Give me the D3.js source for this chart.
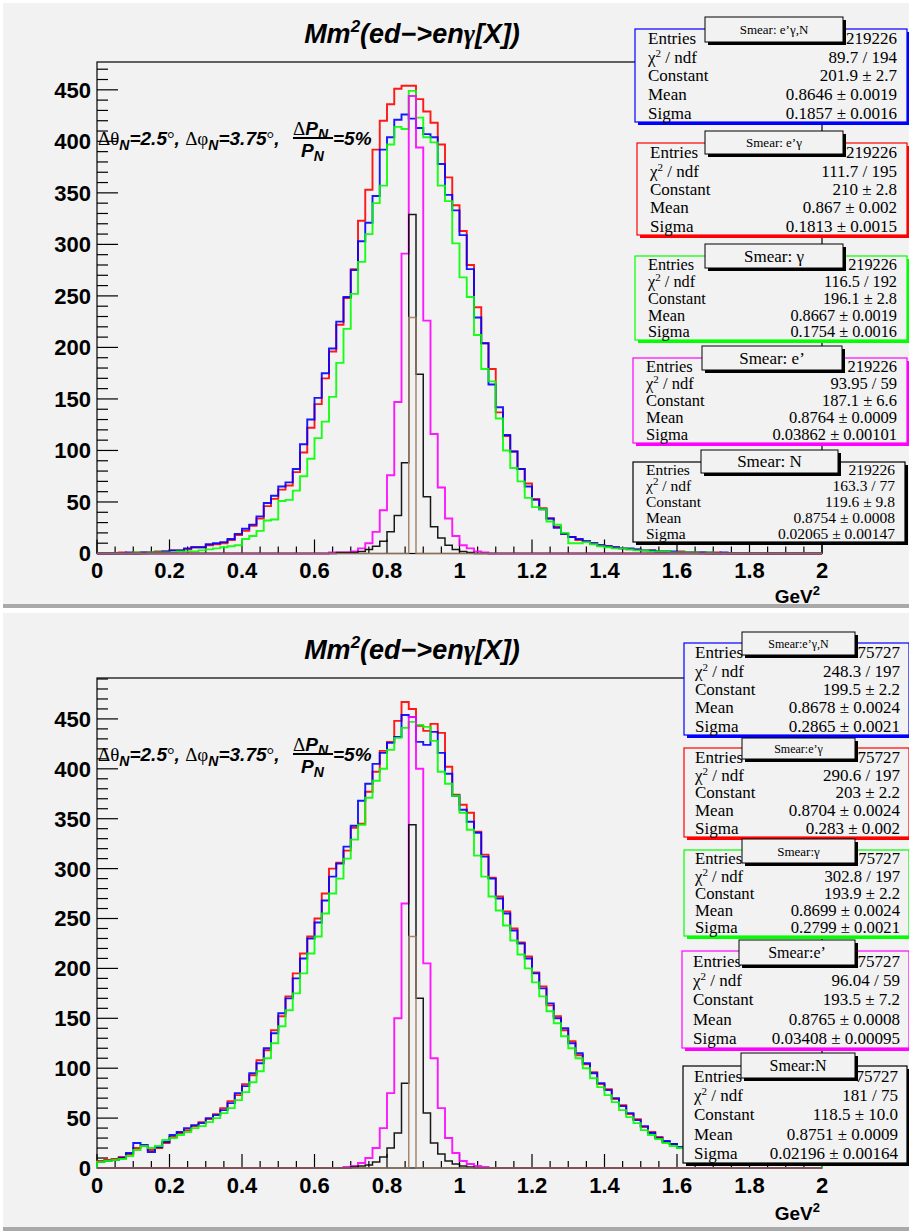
<!DOCTYPE html>
<html>
<head>
<meta charset="utf-8">
<script src="https://cdn.jsdelivr.net/npm/d3@7"></script>
<style>
body { margin: 0; background: #fff; }
svg { display: block; }
.serif { font-family: "Liberation Serif", "Times New Roman", "DejaVu Serif", serif; }
.sans { font-family: "Liberation Sans", Arial, "DejaVu Sans", sans-serif; }
</style>
</head>
<body>
<svg id="chart" width="909" height="1231"></svg>
<script>
// 100 bins of 0.02 GeV^2 from 0 to 2
var nBins = 100, xMin = 0, xMax = 2
var binW = (xMax - xMin) / nBins
var binLow = d3.range(nBins).map(function(i){ return xMin + i * binW })

// ---- top pad ----
var topBlue = [
  0,0,0,0,1,0,1,1,1,2,
  3,3,5,6,6,9,10,11,14,19,
  24,28,36,49,56,65,69,82,106,130,
  151,175,199,225,249,275,303,321,347,392,
  404,421,426,422,413,407,404,378,348,333,
  309,276,229,204,164,142,115,99,82,65,
  52,43,34,25,19,16,14,12,10,8,
  7,6,5,5,4,3,3,2,2,2,
  1,1,1,1,1,0,1,0,0,0,
  0,0,0,0,0,0,0,0,0,0]
var topRed = [
  0,0,0,1,0,1,1,1,2,2,
  3,3,4,6,6,8,9,10,13,18,
  22,27,34,46,53,62,66,79,98,122,
  145,170,196,222,248,276,323,353,392,420,
  436,451,454,454,441,429,418,397,365,338,
  313,280,239,204,179,137,114,99,82,68,
  53,44,34,26,19,16,13,12,10,8,
  7,6,5,4,4,3,3,2,2,1,
  2,1,1,1,0,1,0,0,0,0,
  0,0,0,0,0,0,0,0,0,0]
var topGreen = [
  0,0,0,0,0,1,0,1,1,1,
  1,2,2,2,3,4,5,6,7,8,
  14,17,22,32,33,51,52,61,75,92,
  112,128,152,185,218,252,283,310,340,357,
  397,414,412,449,423,404,399,357,342,301,
  268,249,212,179,167,131,100,83,70,54,
  45,43,31,28,20,10,10,11,9,7,
  6,5,5,4,3,3,2,2,2,1,
  1,1,1,0,1,0,0,0,0,0,
  0,0,0,0,0,0,0,0,0,0]
var topMagenta = [
  0,0,0,0,0,0,0,0,0,0,
  0,0,0,0,0,0,0,0,0,0,
  0,0,0,0,0,0,0,0,0,0,
  0,0,1,1,1,2,5,10,21,42,
  76,147,291,444,394,226,116,64,34,17,
  8,5,2,1,0,0,0,0,0,0,
  0,0,0,0,0,0,0,0,0,0,
  0,0,0,0,0,0,0,0,0,0,
  0,0,0,0,0,0,0,0,0,0,
  0,0,0,0,0,0,0,0,0,0]
var topBlack = [
  0,0,0,0,0,0,0,0,0,0,
  0,0,0,0,0,0,0,0,0,0,
  0,0,0,0,0,0,0,0,0,0,
  0,0,0,1,1,1,2,4,7,12,
  21,37,88,329,174,55,26,15,8,4,
  2,1,0,0,0,0,0,0,0,0,
  0,0,0,0,0,0,0,0,0,0,
  0,0,0,0,0,0,0,0,0,0,
  0,0,0,0,0,0,0,0,0,0,
  0,0,0,0,0,0,0,0,0,0]
var topBrown = [
  0,0,0,0,0,0,0,0,0,0,
  0,0,0,0,0,0,0,0,0,0,
  0,0,0,0,0,0,0,0,0,0,
  0,0,0,0,0,0,0,0,0,0,
  0,0,0,229,0,0,0,0,0,0,
  0,0,0,0,0,0,0,0,0,0,
  0,0,0,0,0,0,0,0,0,0,
  0,0,0,0,0,0,0,0,0,0,
  0,0,0,0,0,0,0,0,0,0,
  0,0,0,0,0,0,0,0,0,0]

// ---- bottom pad ----
var botBlue = [
  6,7,8,10,15,25,23,16,21,26,
  33,36,40,43,45,50,53,58,65,75,
  82,95,105,120,135,155,170,190,210,230,
  246,268,292,305,322,343,368,385,405,416,
  426,432,454,452,427,424,437,416,395,373,
  359,347,336,312,290,270,255,238,225,210,
  195,180,165,150,140,125,115,105,95,85,
  78,70,62,55,48,42,35,30,27,24,
  21,19,17,16,15,13,12,11,10,9,
  9,8,7,7,6,6,5,5,5,4]
var botRed = [
  7,8,9,11,14,20,22,18,20,25,
  31,35,38,42,46,49,54,60,67,73,
  84,93,108,118,138,152,172,195,215,232,
  250,275,300,306,318,341,345,377,397,418,
  427,448,467,460,443,438,445,436,402,374,
  364,356,337,314,291,272,257,240,226,212,
  196,182,163,152,138,127,113,104,96,84,
  79,69,63,54,49,41,36,31,26,24,
  20,19,18,15,15,12,12,11,10,9,
  8,8,7,6,6,5,5,4,5,4]
var botGreen = [
  6,7,8,9,12,18,22,20,22,28,
  30,33,36,40,42,46,50,55,60,68,
  76,86,97,110,125,142,158,175,195,215,
  232,255,275,290,310,329,344,371,388,400,
  419,431,441,447,444,442,428,397,385,373,
  356,339,313,292,272,258,243,228,214,200,
  186,172,157,145,132,120,110,100,90,81,
  73,66,58,51,45,38,33,29,25,22,
  20,18,16,15,13,12,11,10,9,9,
  8,7,7,6,5,5,5,4,4,4]
var botMagenta = [
  0,0,0,0,0,0,0,0,0,0,
  0,0,0,0,0,0,0,0,0,0,
  0,0,0,0,0,0,0,0,0,0,
  0,0,0,0,1,2,5,10,20,40,
  75,150,265,452,400,205,110,60,30,15,
  7,4,2,1,0,0,0,0,0,0,
  0,0,0,0,0,0,0,0,0,0,
  0,0,0,0,0,0,0,0,0,0,
  0,0,0,0,0,0,0,0,0,0,
  0,0,0,0,0,0,0,0,0,0]
var botBlack = [
  0,0,0,0,0,0,0,0,0,0,
  0,0,0,0,0,0,0,0,0,0,
  0,0,0,0,0,0,0,0,0,0,
  0,0,0,0,0,1,2,3,6,11,
  20,35,85,344,170,55,25,14,7,4,
  2,1,0,0,0,0,0,0,0,0,
  0,0,0,0,0,0,0,0,0,0,
  0,0,0,0,0,0,0,0,0,0,
  0,0,0,0,0,0,0,0,0,0,
  0,0,0,0,0,0,0,0,0,0]
var botBrown = [
  0,0,0,0,0,0,0,0,0,0,
  0,0,0,0,0,0,0,0,0,0,
  0,0,0,0,0,0,0,0,0,0,
  0,0,0,0,0,0,0,0,0,0,
  0,0,0,232,0,0,0,0,0,0,
  0,0,0,0,0,0,0,0,0,0,
  0,0,0,0,0,0,0,0,0,0,
  0,0,0,0,0,0,0,0,0,0,
  0,0,0,0,0,0,0,0,0,0,
  0,0,0,0,0,0,0,0,0,0]

// tick labels
var xTickLabels = ['0','0.2','0.4','0.6','0.8','1','1.2','1.4','1.6','1.8','2']
var yTickLabels = ['0','50','100','150','200','250','300','350','400','450']

// stat box texts
var statRows = ['Entries', 'χ2 / ndf', 'Constant', 'Mean', 'Sigma']
var topStatNames = ['Smear: e’γ,N', 'Smear: e’γ', 'Smear: γ', 'Smear: e’', 'Smear: N']
var topStatValues = [
  ['219226', '89.7 / 194', '201.9 ± 2.7', '0.8646 ± 0.0019', '0.1857 ± 0.0016'],
  ['219226', '111.7 / 195', '210 ± 2.8', '0.867 ± 0.002', '0.1813 ± 0.0015'],
  ['219226', '116.5 / 192', '196.1 ± 2.8', '0.8667 ± 0.0019', '0.1754 ± 0.0016'],
  ['219226', '93.95 / 59', '187.1 ± 6.6', '0.8764 ± 0.0009', '0.03862 ± 0.00101'],
  ['219226', '163.3 / 77', '119.6 ± 9.8', '0.8754 ± 0.0008', '0.02065 ± 0.00147']]
var botStatNames = ['Smear:e’γ,N', 'Smear:e’γ', 'Smear:γ', 'Smear:e’', 'Smear:N']
var botStatValues = [
  ['75727', '248.3 / 197', '199.5 ± 2.2', '0.8678 ± 0.0024', '0.2865 ± 0.0021'],
  ['75727', '290.6 / 197', '203 ± 2.2', '0.8704 ± 0.0024', '0.283 ± 0.002'],
  ['75727', '302.8 / 197', '193.9 ± 2.2', '0.8699 ± 0.0024', '0.2799 ± 0.0021'],
  ['75727', '96.04 / 59', '193.5 ± 7.2', '0.8765 ± 0.0008', '0.03408 ± 0.00095'],
  ['75727', '181 / 75', '118.5 ± 10.0', '0.8751 ± 0.0009', '0.02196 ± 0.00164']]

var colors = ['#0000ff', '#ff0000', '#00ff00', '#ff00ff', '#000000', '#9c7a60']

// layout of the two pads
var panels = [
  { top: 62, bottom: 553.5, ymax: 477, titleY: 43, annY: 145, xLabY: 578, unitY: 603,
    series: [topBlue, topRed, topGreen, topMagenta, topBlack, topBrown],
    names: topStatNames, values: topStatValues,
    boxes: [[635,29,907,122],[637,143,907,235],[635,256,907,340],[633,358,907,443],[633,462,905,542]],
    labels: [[705,17,843,42,13],[705,131,843,154,13],[705,244,843,268,17],[702,346,842,370,17],[701,450,838,473,17]],
    textL: 13, textR: 10 },
  { top: 678, bottom: 1168, ymax: 491, titleY: 659, annY: 761, xLabY: 1193, unitY: 1220,
    series: [botBlue, botRed, botGreen, botMagenta, botBlack, botBrown],
    names: botStatNames, values: botStatValues,
    boxes: [[684,643,909,735],[684,748,909,837],[684,850,909,936],[682,951,909,1048],[683,1066,907,1163]],
    labels: [[742,632,855,655,12],[742,738,855,759,12],[742,839,855,863,13],[739,940,855,965,16],[741,1053,855,1078,16]],
    textL: 11, textR: 9 }
]

var svg = d3.select('#chart')
var padFill = '#f2f2f2'

// pads
svg.append('rect').attr('x', 3).attr('y', 3).attr('width', 906).attr('height', 602).attr('fill', padFill)
svg.append('rect').attr('x', 3).attr('y', 604).attr('width', 906).attr('height', 4).attr('fill', '#a9a9a9')
svg.append('rect').attr('x', 3).attr('y', 613).attr('width', 906).attr('height', 614).attr('fill', padFill)
svg.append('rect').attr('x', 3).attr('y', 1227).attr('width', 906).attr('height', 4).attr('fill', '#a9a9a9')

var x = d3.scaleLinear().domain([xMin, xMax]).range([97, 822])

panels.forEach(function(p){
  var y = d3.scaleLinear().domain([0, p.ymax]).range([p.bottom, p.top])
  var g = svg.append('g')

  // frame
  g.append('rect').attr('x', x(0)).attr('y', p.top).attr('width', x(2) - x(0)).attr('height', p.bottom - p.top)
    .attr('fill', 'none').attr('stroke', '#000').attr('stroke-width', 1.2)

  // y ticks (inside the frame)
  d3.range(0, p.ymax, 10).forEach(function(v){
    var major = v % 50 === 0
    g.append('line').attr('x1', x(0)).attr('x2', x(0) + (major ? 21 : 11))
      .attr('y1', y(v)).attr('y2', y(v)).attr('stroke', '#000').attr('stroke-width', 1.2)
  })
  g.selectAll('.ylab').data(yTickLabels).enter().append('text')
    .attr('class', 'sans')
    .attr('x', 91).attr('y', function(d){ return y(+d) }).attr('dy', '0.36em')
    .attr('text-anchor', 'end')
    .style('font-weight', 'bold').style('font-size', '22px')
    .text(function(d){ return d })

  // x ticks
  d3.range(0, 41).forEach(function(k){
    var v = k * 0.05
    var major = k % 4 === 0
    g.append('line').attr('x1', x(v)).attr('x2', x(v))
      .attr('y1', p.bottom).attr('y2', p.bottom - (major ? 14 : 7)).attr('stroke', '#000').attr('stroke-width', 1.2)
  })
  g.selectAll('.xlab').data(xTickLabels).enter().append('text')
    .attr('class', 'sans')
    .attr('x', function(d){ return x(+d) }).attr('y', p.xLabY)
    .attr('text-anchor', 'middle')
    .style('font-weight', 'bold').style('font-size', '22px')
    .text(function(d){ return d })
  var unit = g.append('text').attr('class', 'sans').attr('x', 820).attr('y', p.unitY).attr('text-anchor', 'end')
    .style('font-weight', 'bold').style('font-size', '19px')
  unit.append('tspan').text('GeV')
  unit.append('tspan').attr('dy', -8).style('font-size', '13px').text('2')

  // histograms
  var line = d3.line().x(function(d){ return x(d[0]) }).y(function(d){ return y(d[1]) })
  var order = [1, 0, 2, 3, 4, 5]
  order.forEach(function(k){
    var vals = p.series[k]
    var pts = [[xMin, 0]]
    vals.forEach(function(v, i){ pts.push([binLow[i], v]); pts.push([binLow[i] + binW, v]) })
    pts.push([xMax, 0])
    g.append('path').attr('d', line(pts)).attr('fill', 'none')
      .attr('stroke', colors[k]).attr('stroke-width', k >= 4 ? 1.5 : 1.9)
      .attr('stroke-opacity', 0.9)
  })

  // title
  var t = g.append('text').attr('class', 'sans').attr('x', 412).attr('y', p.titleY).attr('text-anchor', 'middle')
    .style('font-weight', 'bold').style('font-style', 'italic').style('font-size', '27px')
  t.append('tspan').text('Mm')
  t.append('tspan').attr('dy', -11).style('font-size', '17px').text('2')
  t.append('tspan').attr('dy', 11).text('(ed−>en')
  t.append('tspan').attr('class', 'serif').style('font-style', 'italic').text('γ')
  t.append('tspan').text('[X])')

  // smearing annotation
  var a = g.append('text').attr('class', 'sans').attr('x', 98).attr('y', p.annY)
    .style('font-weight', 'bold').style('font-style', 'italic').style('font-size', '19px')
  a.append('tspan').attr('class', 'serif').style('font-weight', 'normal').style('font-style', 'normal').text('Δθ')
  a.append('tspan').attr('dy', 5).style('font-size', '14px').text('N')
  a.append('tspan').attr('dy', -5).text('=2.5')
  a.append('tspan').attr('class', 'serif').style('font-weight', 'normal').style('font-style', 'normal').text('°')
  a.append('tspan').text(', ')
  a.append('tspan').attr('class', 'serif').style('font-weight', 'normal').style('font-style', 'normal').text('Δφ')
  a.append('tspan').attr('dy', 5).style('font-size', '14px').text('N')
  a.append('tspan').attr('dy', -5).text('=3.75')
  a.append('tspan').attr('class', 'serif').style('font-weight', 'normal').style('font-style', 'normal').text('°')
  a.append('tspan').text(',')
  var num = g.append('text').attr('class', 'sans').attr('x', 293).attr('y', p.annY - 10)
    .style('font-weight', 'bold').style('font-style', 'italic').style('font-size', '19px')
  num.append('tspan').attr('class', 'serif').style('font-weight', 'normal').style('font-style', 'normal').text('Δ')
  num.append('tspan').text('P')
  num.append('tspan').attr('dy', 4).style('font-size', '14px').text('N')
  g.append('line').attr('x1', 293).attr('x2', 333).attr('y1', p.annY - 7).attr('y2', p.annY - 7)
    .attr('stroke', '#000').attr('stroke-width', 1.8)
  var den = g.append('text').attr('class', 'sans').attr('x', 301).attr('y', p.annY + 12)
    .style('font-weight', 'bold').style('font-style', 'italic').style('font-size', '19px')
  den.append('tspan').text('P')
  den.append('tspan').attr('dy', 4).style('font-size', '14px').text('N')
  g.append('text').attr('class', 'sans').attr('x', 333).attr('y', p.annY)
    .style('font-weight', 'bold').style('font-style', 'italic').style('font-size', '19px')
    .text('=5%')

  // stat boxes
  p.boxes.forEach(function(b, k){
    var col = colors[k]
    var bx = g.append('g')
    bx.append('rect').attr('x', b[0] + 3).attr('y', b[1] + 3).attr('width', b[2] - b[0]).attr('height', b[3] - b[1]).attr('fill', col)
    bx.append('rect').attr('x', b[0]).attr('y', b[1]).attr('width', b[2] - b[0]).attr('height', b[3] - b[1])
      .attr('fill', padFill).attr('stroke', col).attr('stroke-width', 1.2)
    var h = (b[3] - b[1]) / 5
    var fs = Math.min(17, h - 0.5)
    statRows.forEach(function(r, i){
      var yy = b[1] + h * (i + 0.5) + fs * 0.35
      var lt = bx.append('text').attr('class', 'serif').attr('x', b[0] + p.textL).attr('y', yy)
        .style('font-size', fs + 'px')
      if (i === 1) {
        lt.append('tspan').text('χ')
        lt.append('tspan').attr('dy', -6).style('font-size', '11px').text('2')
        lt.append('tspan').attr('dy', 6).text(' / ndf')
      } else {
        lt.text(r)
      }
      bx.append('text').attr('class', 'serif').attr('x', b[2] - p.textR).attr('y', yy).attr('text-anchor', 'end')
        .style('font-size', fs + 'px')
        .text(p.values[k][i])
    })
    var lb = p.labels[k]
    bx.append('rect').attr('x', lb[0] + 3).attr('y', lb[1] + 3).attr('width', lb[2] - lb[0]).attr('height', lb[3] - lb[1]).attr('fill', '#000')
    bx.append('rect').attr('x', lb[0]).attr('y', lb[1]).attr('width', lb[2] - lb[0]).attr('height', lb[3] - lb[1])
      .attr('fill', padFill).attr('stroke', '#000').attr('stroke-width', 1)
    bx.append('text').attr('class', 'serif').attr('x', (lb[0] + lb[2]) / 2).attr('y', (lb[1] + lb[3]) / 2).attr('dy', '0.35em')
      .attr('text-anchor', 'middle')
      .style('font-size', lb[4] + 'px')
      .text(p.names[k])
  })
})
</script>
</body>
</html>
